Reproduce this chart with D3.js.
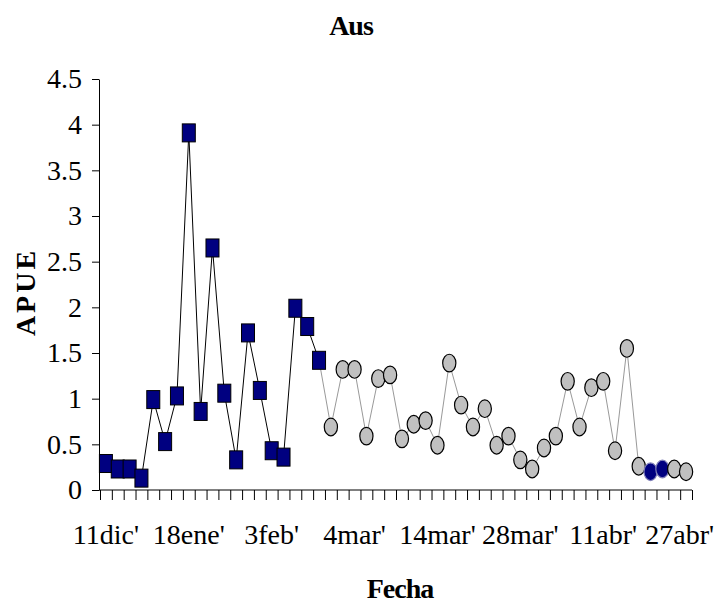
<!DOCTYPE html>
<html>
<head>
<meta charset="utf-8">
<script src="https://cdn.jsdelivr.net/npm/d3@7"></script>
<style>
  body { margin: 0; background: #fff; }
  svg text { font-family: "Liberation Serif", "Times New Roman", Times, "DejaVu Serif", serif !important; }
</style>
</head>
<body>
<svg id="chart"></svg>
<script>
// categorias de fecha (50 muestreos), solo algunas llevan etiqueta
const nCat = 50
const tickLabels = [
  [0, "11dic'"], [7, "18ene'"], [14, "3feb'"], [21, "4mar'"],
  [28, "14mar'"], [35, "28mar'"], [42, "11abr'"], [49, "27abr'"]
]
const yTicks = [0, 0.5, 1, 1.5, 2, 2.5, 3, 3.5, 4, 4.5]

// APUE, primer tramo (cuadrados azules)
const apueSquares = [0.29, 0.23, 0.23, 0.13, 0.99, 0.53, 1.03, 3.91, 0.86, 2.65,
  1.06, 0.33, 1.72, 1.09, 0.43, 0.36, 1.99, 1.79, 1.42]
// APUE, segundo tramo (circulos grises)
const apueCircles = [0.69, 1.32, 1.32, 0.59, 1.22, 1.26, 0.56, 0.72, 0.76, 0.49,
  1.39, 0.93, 0.69, 0.89, 0.49, 0.59, 0.33, 0.23, 0.46, 0.59,
  1.19, 0.69, 1.12, 1.19, 0.43, 1.55, 0.26, 0.20, 0.23, 0.23, 0.20]
// circulos marcados en azul
const highlighted = [46, 47]

const width = 715
const height = 609
const margin = {top: 79, right: 23, bottom: 119, left: 100}

const squares = apueSquares.map((v, i) => ({i, v}))
const circles = apueCircles.map((v, k) => ({i: k + apueSquares.length, v}))

const x = d3.scaleBand()
  .domain(d3.range(nCat))
  .range([margin.left, width - margin.right])
const xb = d3.scaleLinear()
  .domain([0, nCat])
  .range([margin.left, width - margin.right])
const y = d3.scaleLinear()
  .domain([0, 4.5])
  .range([height - margin.bottom, margin.top])
const cx = i => x(i) + x.bandwidth() / 2

const svg = d3.select("#chart")
  .attr("width", width)
  .attr("height", height)
  .attr("viewBox", [0, 0, width, height])

svg.append("rect").attr("width", width).attr("height", height).attr("fill", "#fff")

// ejes
const y0 = y(0)
svg.append("g")
  .attr("transform", `translate(${margin.left - 1},0)`)
  .call(d3.axisLeft(y).tickValues(yTicks).tickFormat(d => String(d)).tickSize(7).tickPadding(10).tickSizeOuter(0))
  .call(g => g.selectAll("text").attr("font-size", 28).attr("fill", "#000"))
  .call(g => g.selectAll("line, path").attr("stroke", "#000"))

svg.append("g")
  .attr("transform", `translate(0,${y0})`)
  .call(d3.axisBottom(xb).tickValues(d3.range(nCat + 1)).tickFormat("").tickSize(10).tickSizeOuter(0))
  .call(g => g.select(".domain").attr("d", `M${margin.left - 1},0H${width - margin.right}`))
  .call(g => g.selectAll("line, path").attr("stroke", "#000"))

svg.append("g")
  .attr("transform", `translate(0,${y0})`)
  .call(d3.axisBottom(x).tickValues(tickLabels.map(d => d[0]))
    .tickFormat(d => tickLabels.find(t => t[0] === d)[1]).tickSize(0).tickPadding(34))
  .call(g => g.select(".domain").remove())
  .call(g => g.selectAll("text").attr("font-size", 28).attr("fill", "#000"))
  // la ultima etiqueta se sale por la derecha: la empujo dentro
  .call(g => g.selectAll(".tick").each(function() {
    const t = d3.select(this).select("text")
    const b = this.getBBox()
    const tr = this.transform.baseVal.consolidate().matrix.e
    const over = tr + b.x + b.width - (width - 1)
    if (over > 0) t.attr("x", -over)
  }))

// lineas
const line = d3.line().x(d => cx(d.i)).y(d => y(d.v))
svg.append("path")
  .datum([squares[squares.length - 1], ...circles])
  .attr("fill", "none").attr("stroke", "#999").attr("stroke-width", 1)
  .attr("d", line)
svg.append("path")
  .datum(squares)
  .attr("fill", "none").attr("stroke", "#000").attr("stroke-width", 1)
  .attr("d", line)

// marcadores
svg.append("g").selectAll("rect")
  .data(squares)
  .join("rect")
  .attr("x", d => cx(d.i) - 6.5)
  .attr("y", d => y(d.v) - 9)
  .attr("width", 13)
  .attr("height", 18)
  .attr("fill", "#000080")
  .attr("stroke", "#000")
  .attr("stroke-width", 1)

svg.append("g").selectAll("ellipse")
  .data(circles)
  .join("ellipse")
  .attr("cx", d => cx(d.i))
  .attr("cy", d => y(d.v))
  .attr("rx", 6.6)
  .attr("ry", 8.8)
  .attr("fill", d => highlighted.includes(d.i) ? "#000080" : "#c0c0c0")
  .attr("stroke", d => highlighted.includes(d.i) ? "#8080b8" : "#000")
  .attr("stroke-width", 1.2)

// titulos
svg.append("text")
  .attr("x", 351).attr("y", 35)
  .attr("text-anchor", "middle")
  .attr("font-size", 28).attr("font-weight", "bold")
  .attr("letter-spacing", -1)
  .text("Aus")

svg.append("text")
  .attr("x", 400).attr("y", 598)
  .attr("text-anchor", "middle")
  .attr("font-size", 28).attr("font-weight", "bold")
  .attr("letter-spacing", -1)
  .text("Fecha")

svg.append("text")
  .attr("transform", "translate(35,292) rotate(-90)")
  .attr("text-anchor", "middle")
  .attr("font-size", 28).attr("font-weight", "bold")
  .attr("letter-spacing", 3)
  .text("APUE")
</script>
</body>
</html>
